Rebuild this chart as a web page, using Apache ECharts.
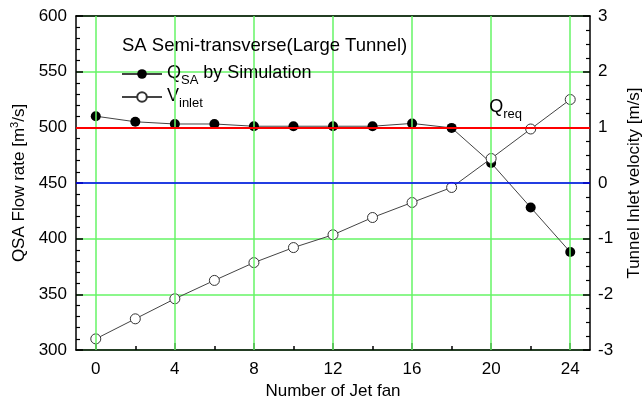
<!DOCTYPE html>
<html>
<head>
<meta charset="utf-8">
<script src="https://cdn.jsdelivr.net/npm/echarts@6/dist/echarts.min.js"></script>
<style>html,body{margin:0;padding:0;background:#fff}#c{width:642px;height:397px}</style>
</head>
<body>
<div id="c"></div>
<script>
var jetFans = [0, 2, 4, 6, 8, 10, 12, 14, 16, 18, 20, 22, 24];
var qSA = [510, 505, 503, 503, 501, 501, 501, 501, 503.5, 499.5, 468, 428, 388];
var vInlet = [-2.80, -2.44, -2.08, -1.75, -1.43, -1.16, -0.93, -0.62, -0.35, -0.08, 0.44, 0.97, 1.50];
var xMajorTicks = [0, 4, 8, 12, 16, 20, 24];
var xMinorTicks = [2, 6, 10, 14, 18, 22];
var qReq = 500;
var vZeroLine = 450;

var FONT = 'Liberation Sans';
var GREEN = '#66f566';
var chart = echarts.init(document.getElementById('c'), null, {renderer: 'canvas'});

function pairs(xs, ys) { return xs.map(function (x, i) { return [x, ys[i]]; }); }

var subRich = {
  q: {fontFamily: FONT, fontSize: 18, color: '#000', lineHeight: 20, verticalAlign: 'top'},
  s: {fontFamily: FONT, fontSize: 13, color: '#000', lineHeight: 13, padding: [10, 0, 0, 0], verticalAlign: 'top'},
  t: {fontFamily: FONT, fontSize: 18, color: '#000', lineHeight: 20, verticalAlign: 'top'}
};

var option = {
  animation: false,
  backgroundColor: '#fff',
  title: {
    text: 'SA Semi-transverse(Large Tunnel)',
    left: 117, top: 31,
    textStyle: {fontFamily: FONT, fontSize: 18.5, fontWeight: 'normal', color: '#000'}
  },
  legend: {
    orient: 'vertical',
    left: 116, top: 59,
    itemWidth: 40, itemHeight: 12, itemGap: 0,
    data: ['QSA', 'Vinlet'],
    formatter: function (name) {
      if (name === 'QSA') return '{q|Q}{s|SA}{t| by Simulation}';
      return '{q|V}{s|inlet}';
    },
    textStyle: {fontFamily: FONT, fontSize: 18, color: '#000', rich: subRich}
  },
  grid: {left: 76, right: 52, top: 16, bottom: 47, show: false, outerBoundsMode: 'none', containLabel: false},
  xAxis: [{
    type: 'value', min: -1, max: 25,
    name: 'Number of Jet fan', nameLocation: 'middle', nameGap: 26,
    nameTextStyle: {fontFamily: FONT, fontSize: 17, color: '#000'},
    axisLine: {show: true, onZero: false, lineStyle: {color: '#000', width: 1.5}},
    axisTick: {show: true, inside: true, length: 7, customValues: xMajorTicks, lineStyle: {color: '#000', width: 1.5}},
    axisLabel: {customValues: xMajorTicks, fontFamily: FONT, fontSize: 17, color: '#000', margin: 11},
    splitLine: {show: false}
  }, {
    type: 'value', min: -1, max: 25, position: 'bottom',
    axisLine: {show: false, onZero: false},
    axisTick: {show: true, inside: true, length: 4, customValues: xMinorTicks, lineStyle: {color: '#000', width: 1.5}},
    axisLabel: {show: false},
    splitLine: {show: false}
  }, {
    type: 'value', min: -1, max: 25, position: 'top',
    axisLine: {show: true, onZero: false, lineStyle: {color: '#000', width: 1.5}},
    axisTick: {show: false},
    axisLabel: {show: false},
    splitLine: {show: false}
  }],
  yAxis: [{
    type: 'value', min: 300, max: 600, interval: 50,
    name: 'QSA Flow rate [m{sup|3}/s]', nameLocation: 'middle', nameGap: 43, nameRotate: 90,
    nameTextStyle: {fontFamily: FONT, fontSize: 17, color: '#000',
      rich: {sup: {fontFamily: FONT, fontSize: 11, color: '#000', verticalAlign: 'top', padding: [0, 0, 8, 0]}}},
    axisLine: {show: true, onZero: false, lineStyle: {color: '#000', width: 1.5}},
    axisTick: {show: true, inside: true, length: 7, lineStyle: {color: '#000', width: 1.5}},
    minorTick: {show: true, splitNumber: 5, length: 4, lineStyle: {color: '#000', width: 1.2}},
    axisLabel: {fontFamily: FONT, fontSize: 17, color: '#000', margin: 9},
    splitLine: {show: true, lineStyle: {color: GREEN, width: 1.5}}
  }, {
    type: 'value', min: -3, max: 3, interval: 1, position: 'right',
    name: 'Tunnel Inlet velocity [m/s]', nameLocation: 'middle', nameGap: 36, nameRotate: 90,
    nameTextStyle: {fontFamily: FONT, fontSize: 17, color: '#000'},
    axisLine: {show: true, onZero: false, lineStyle: {color: '#000', width: 1.5}},
    axisTick: {show: true, inside: true, length: 7, lineStyle: {color: '#000', width: 1.5}},
    minorTick: {show: true, splitNumber: 4, length: 4, lineStyle: {color: '#000', width: 1.2}},
    axisLabel: {fontFamily: FONT, fontSize: 17, color: '#000', margin: 8},
    splitLine: {show: false}
  }],
  series: [{
    name: 'gridX', type: 'line', xAxisIndex: 0, yAxisIndex: 0,
    data: [], z: 1, silent: true,
    markLine: {
      silent: true, symbol: 'none', label: {show: false},
      lineStyle: {color: GREEN, width: 1.5, type: 'solid'},
      data: xMajorTicks.map(function (v) { return {xAxis: v}; })
    }
  }, {
    name: 'QSA', type: 'line', xAxisIndex: 0, yAxisIndex: 0,
    data: pairs(jetFans, qSA),
    symbol: 'circle', symbolSize: 10,
    itemStyle: {color: '#000', borderColor: '#000', borderWidth: 0},
    lineStyle: {color: '#444', width: 1},
    z: 3,
    markLine: {
      silent: true, symbol: 'none', label: {show: false},
      data: [
        {yAxis: qReq, lineStyle: {color: '#ff0000', width: 2, type: 'solid'}},
        {yAxis: vZeroLine, lineStyle: {color: '#0000ff', width: 1.5, type: 'solid'}}
      ]
    },
    markPoint: {
      silent: true, symbol: 'circle', symbolSize: 0,
      data: [{coord: [19.9, 517], value: 0}],
      label: {show: true, position: 'inside', align: 'left', formatter: '{q|Q}{s|req}', rich: subRich}
    }
  }, {
    name: 'Vinlet', type: 'line', xAxisIndex: 0, yAxisIndex: 1,
    data: pairs(jetFans, vInlet),
    symbol: 'circle', symbolSize: 10,
    itemStyle: {color: '#fff', borderColor: '#333', borderWidth: 1},
    lineStyle: {color: '#444', width: 1},
    z: 4
  }]
};
chart.setOption(option);
</script>
</body>
</html>
